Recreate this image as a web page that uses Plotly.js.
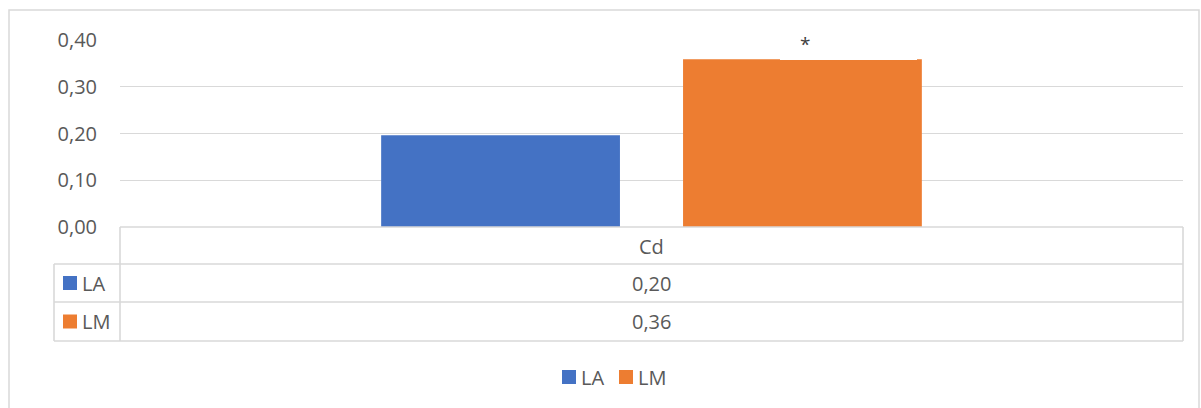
<!DOCTYPE html>
<html>
<head>
<meta charset="utf-8">
<script src="https://cdn.plot.ly/plotly-3.0.1.min.js"></script>
<style>
  html, body { margin: 0; padding: 0; background: #ffffff; }
  #chart { width: 1201px; height: 408px; }
</style>
</head>
<body>
<div id="chart"></div>
<script>
// ---- data ----
const categories = ['Cd'];
const seriesNames = ['LA', 'LM'];
const valuesLA = [0.196];
const valuesLM = [0.359];
const seriesColors = ['#4472C4', '#ED7D31'];
const significance = ['*'];
const yTickVals = [0, 0.1, 0.2, 0.3, 0.4];
const yTickText = ['0,00', '0,10', '0,20', '0,30', '0,40'];

// ---- layout helpers (pixel -> paper) ----
const L = 120, R = 1183, T = 40, B = 227;
const W = 1201, H = 408;
const X = px => (px - L) / (R - L);
const Y = py => (B - py) / (B - T);
const fmt = v => v.toFixed(2).replace('.', ',');

const FONT = "'Open Sans', 'Liberation Sans', sans-serif";
const TXT = '#595959';
const GRID = '#d9d9d9';
const FS = 20;

const seriesValues = [valuesLA, valuesLM];

const traces = seriesNames.map((name, i) => ({
  type: 'bar',
  name: name,
  x: categories,
  y: seriesValues[i],
  marker: { color: seriesColors[i] },
  hoverinfo: 'none',
  showlegend: false
}));

const shapes = [];
const line = (x0, y0, x1, y1, w) => shapes.push({
  type: 'line', xref: 'paper', yref: 'paper',
  x0: X(x0), y0: Y(y0), x1: X(x1), y1: Y(y1),
  line: { color: GRID, width: w || 1.6 }, layer: 'above'
});

// outer chart border
shapes.push({
  type: 'rect', xref: 'paper', yref: 'paper',
  x0: X(9), y0: Y(10), x1: X(1199), y1: Y(420),
  line: { color: GRID, width: 1.5 }, fillcolor: 'rgba(0,0,0,0)', layer: 'below'
});

// data table grid
const rowY = [227, 264, 302, 341];
line(L, 227, R, 227);
line(54, 264, R, 264);
line(54, 302, R, 302);
line(54, 341, R, 341);
line(L, 227, L, 341);
line(R, 227, R, 341);
line(54, 264, 54, 341);

const annotations = [];

// legend keys inside table
seriesNames.forEach((n, i) => {
  const cy = (rowY[i + 1] + rowY[i + 2]) / 2;
  shapes.push({
    type: 'rect', xref: 'paper', yref: 'paper',
    x0: X(63), x1: X(77), y0: Y(cy + 7), y1: Y(cy - 7),
    fillcolor: seriesColors[i], line: { width: 0 }, layer: 'above'
  });
  annotations.push({
    xref: 'paper', yref: 'paper', x: X(80), y: Y(cy), text: n, showarrow: false,
    font: { family: FONT, size: FS, color: TXT }, xanchor: 'left', yanchor: 'middle'
  });
});

// bottom legend (manual)
const legX = [562, 619];
seriesNames.forEach((n, i) => {
  shapes.push({
    type: 'rect', xref: 'paper', yref: 'paper',
    x0: X(legX[i]), x1: X(legX[i] + 14), y0: Y(384), y1: Y(370),
    fillcolor: seriesColors[i], line: { width: 0 }, layer: 'above'
  });
  annotations.push({
    xref: 'paper', yref: 'paper', x: X(legX[i] + 17), y: Y(377), text: n, showarrow: false,
    font: { family: FONT, size: FS, color: TXT }, xanchor: 'left', yanchor: 'middle'
  });
});

// white label box for significance marker
shapes.push({
  type: 'rect', xref: 'paper', yref: 'paper',
  x0: X(780), x1: X(917), y0: Y(60), y1: Y(37),
  fillcolor: '#ffffff', line: { width: 0 }, layer: 'above'
});

// category header and values
categories.forEach((c, ci) => {
  annotations.push({
    xref: 'x', yref: 'paper', x: c, y: Y(246), text: c, showarrow: false,
    font: { family: FONT, size: FS, color: TXT }, xanchor: 'center', yanchor: 'middle'
  });
  seriesNames.forEach((n, i) => {
    const cy = (rowY[i + 1] + rowY[i + 2]) / 2;
    annotations.push({
      xref: 'x', yref: 'paper', x: c, y: Y(cy), text: fmt(seriesValues[i][ci]),
      showarrow: false, font: { family: FONT, size: FS, color: TXT },
      xanchor: 'center', yanchor: 'middle'
    });
  });
});

// significance star
annotations.push({
  xref: 'paper', yref: 'paper', x: X(805), y: Y(44), text: significance[0], showarrow: false,
  font: { family: FONT, size: 19, color: '#404040' }, xanchor: 'center', yanchor: 'middle'
});

const layout = {
  width: W, height: H,
  margin: { l: L, r: W - R, t: T, b: H - B, pad: 0 },
  paper_bgcolor: '#ffffff',
  plot_bgcolor: 'rgba(0,0,0,0)',
  barmode: 'group',
  bargap: 0.432,
  bargroupgap: 0.209,
  xaxis: {
    type: 'category', showticklabels: false, showgrid: false, zeroline: false,
    showline: false, ticks: '', fixedrange: true
  },
  yaxis: {
    range: [0, 0.4], tickvals: yTickVals, ticktext: yTickText,
    showgrid: true, gridcolor: GRID, gridwidth: 1.3, zeroline: false, showline: false,
    ticks: '', ticklabelstandoff: 22,
    tickfont: { family: FONT, size: FS, color: TXT }, fixedrange: true
  },
  showlegend: false,
  shapes: shapes,
  annotations: annotations
};

Plotly.newPlot('chart', traces, layout, { displayModeBar: false, staticPlot: true });
</script>
</body>
</html>
